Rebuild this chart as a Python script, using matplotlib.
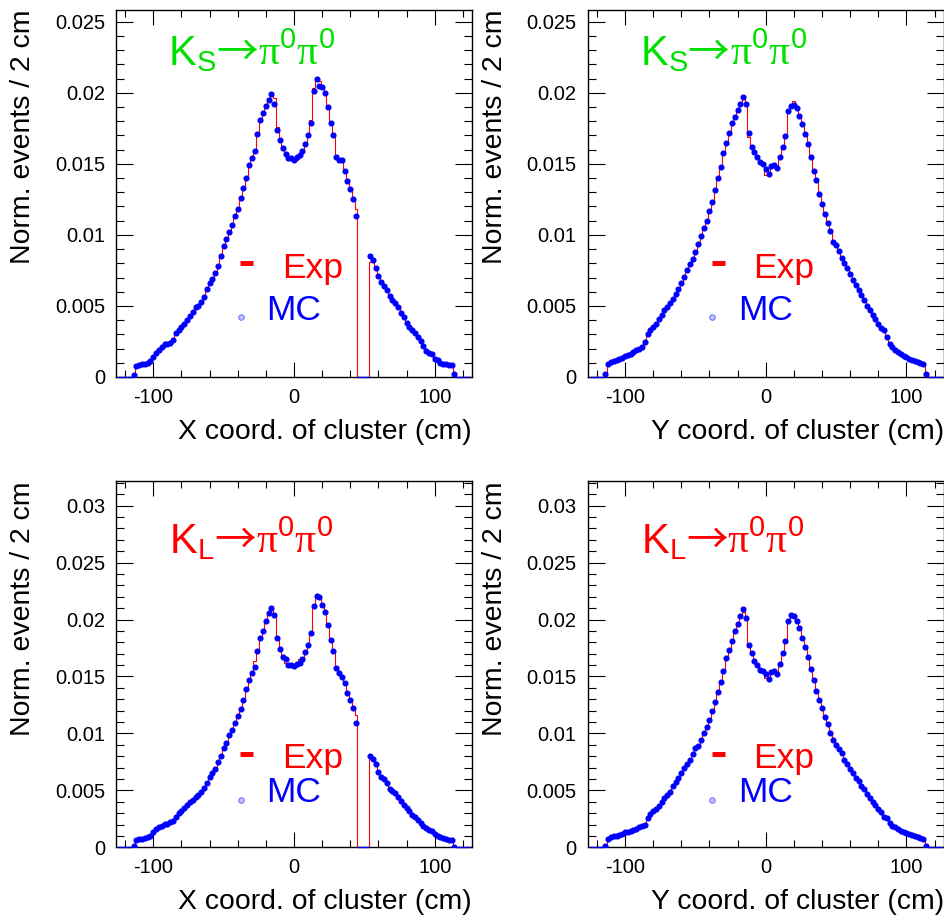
#!/usr/bin/env python3
"""Cluster X/Y coordinate distributions, data (Exp) vs MC, for KS and KL -> pi0 pi0."""
import matplotlib

matplotlib.use("Agg")
import matplotlib.pyplot as plt
import numpy as np
from matplotlib.ticker import FuncFormatter, MultipleLocator

plt.rcParams["font.family"] = ["Liberation Sans", "DejaVu Sans"]
plt.rcParams["mathtext.fontset"] = "custom"
plt.rcParams["mathtext.rm"] = "Liberation Sans"
plt.rcParams["mathtext.it"] = "Liberation Sans:italic"
plt.rcParams["mathtext.bf"] = "Liberation Sans:bold"

RED = "#ff0000"
BLUE = "#0000ff"
GREEN = "#00e000"

# histogram binning (cm): 2 cm bins, centres -124 ... 124
BIN_LO, BIN_HI, BIN_W = -125, 125, 2

# bin contents in units of 1e-3 (normalised events / 2 cm), one row = 10 bins
ks_x_mc = [
    0, 0, 0, 0, 0, 0.15, 0.77, 0.82, 0.89, 0.94,
    1.00, 1.10, 1.40, 1.70, 1.90, 2.10, 2.30, 2.35, 2.40, 2.60,
    3.10, 3.30, 3.50, 3.70, 4.00, 4.30, 4.60, 4.90, 5.00, 5.30,
    5.60, 6.20, 6.60, 6.90, 7.30, 7.80, 8.50, 9.20, 9.70, 10.20,
    10.70, 11.30, 11.80, 12.60, 13.30, 14.00, 14.90, 15.40, 15.90, 17.10,
    18.10, 18.60, 19.10, 19.50, 19.90, 19.20, 17.40, 16.70, 16.10, 15.70,
    15.40, 15.40, 15.30, 15.45, 15.60, 15.90, 16.40, 17.00, 17.90, 20.10,
    21.00, 20.50, 20.40, 20.00, 19.00, 17.90, 17.00, 15.50, 15.30, 15.30,
    14.50, 13.80, 13.20, 12.50, 11.30, 0, 0, 0, 0, 8.50,
    8.20, 7.70, 7.10, 6.70, 6.40, 6.10, 5.70, 5.40, 5.20, 4.90,
    4.50, 4.20, 3.80, 3.50, 3.30, 3.10, 2.80, 2.50, 2.20, 1.80,
    1.70, 1.60, 1.30, 1.20, 1.00, 0.94, 0.90, 0.85, 0.82, 0.23,
    0, 0, 0, 0, 0,
]
ks_x_exp = [
    0, 0, 0, 0, 0, 0.10, 0.78, 0.83, 0.88, 0.95,
    1.00, 1.12, 1.38, 1.70, 1.92, 2.10, 2.28, 2.38, 2.42, 2.62,
    3.05, 3.30, 3.52, 3.70, 4.02, 4.28, 4.62, 4.88, 5.02, 5.30,
    5.65, 6.15, 6.60, 6.95, 7.25, 7.85, 8.45, 9.20, 9.75, 10.15,
    10.75, 11.25, 11.90, 12.50, 13.40, 13.95, 15.00, 15.35, 16.00, 17.20,
    18.00, 18.70, 19.20, 19.60, 19.80, 19.60, 17.60, 16.60, 16.00, 15.60,
    15.30, 15.30, 15.30, 15.30, 15.60, 16.00, 16.30, 17.10, 18.10, 20.30,
    20.90, 20.80, 20.40, 19.90, 19.10, 17.90, 17.20, 15.60, 15.30, 15.40,
    14.40, 13.90, 13.10, 12.50, 11.80, 0, 0, 0, 0, 8.10,
    8.15, 7.75, 7.05, 6.75, 6.35, 6.10, 5.75, 5.35, 5.20, 4.85,
    4.55, 4.20, 3.75, 3.50, 3.30, 3.05, 2.80, 2.45, 2.20, 1.85,
    1.70, 1.60, 1.35, 1.20, 1.02, 0.95, 0.90, 0.86, 0.82, 0.20,
    0, 0, 0, 0, 0,
]
ks_y_mc = [
    0, 0, 0, 0, 0, 0.23, 0.94, 1.06, 1.13, 1.22,
    1.29, 1.36, 1.46, 1.53, 1.64, 1.76, 1.88, 2.00, 2.11, 2.46,
    3.00, 3.29, 3.52, 3.71, 4.06, 4.34, 4.70, 4.93, 5.21, 5.47,
    5.87, 6.22, 6.62, 7.04, 7.51, 7.93, 8.29, 8.76, 9.34, 9.95,
    10.50, 11.00, 11.67, 12.32, 13.15, 14.01, 14.74, 15.73, 16.48, 17.14,
    17.89, 18.31, 18.78, 19.20, 19.72, 19.18, 17.14, 16.20, 15.85, 15.49,
    15.14, 14.98, 14.60, 14.27, 14.86, 14.90, 14.67, 15.45, 16.20, 16.95,
    18.71, 19.08, 19.13, 18.90, 18.36, 17.77, 17.07, 16.38, 15.49, 14.51,
    13.85, 12.91, 12.14, 11.50, 10.85, 10.26, 9.51, 9.27, 8.87, 8.40,
    8.03, 7.68, 7.23, 6.81, 6.46, 6.15, 5.75, 5.40, 4.98, 4.70,
    4.34, 4.06, 3.76, 3.47, 3.29, 2.82, 2.35, 2.11, 1.92, 1.76,
    1.60, 1.50, 1.41, 1.29, 1.22, 1.13, 1.04, 0.97, 0.90, 0.23,
    0, 0, 0, 0, 0,
]
ks_y_exp = [
    0, 0, 0, 0, 0, 0.20, 0.95, 1.05, 1.14, 1.22,
    1.30, 1.37, 1.45, 1.55, 1.63, 1.78, 1.86, 2.02, 2.10, 2.40,
    3.05, 3.27, 3.55, 3.70, 4.08, 4.32, 4.72, 4.95, 5.20, 5.50,
    5.85, 6.25, 6.60, 7.05, 7.50, 7.95, 8.30, 8.75, 9.30, 10.00,
    10.45, 11.05, 11.60, 12.35, 13.10, 14.05, 14.70, 15.80, 16.40, 17.20,
    17.80, 18.40, 18.70, 19.30, 19.70, 19.25, 16.90, 16.30, 15.80, 15.40,
    15.10, 14.90, 14.20, 14.30, 14.80, 14.95, 14.60, 15.50, 16.10, 17.00,
    18.75, 19.20, 19.45, 18.90, 18.30, 17.80, 17.00, 16.40, 15.45, 14.40,
    13.70, 12.95, 12.10, 11.55, 10.80, 10.30, 9.50, 9.30, 8.80, 8.45,
    8.00, 7.70, 7.20, 6.85, 6.45, 6.15, 5.75, 5.40, 4.95, 4.72,
    4.30, 4.08, 3.75, 3.45, 3.30, 2.80, 2.38, 2.10, 1.93, 1.75,
    1.62, 1.50, 1.40, 1.30, 1.21, 1.12, 1.05, 0.96, 0.90, 0.20,
    0, 0, 0, 0, 0,
]
kl_x_mc = [
    0, 0, 0, 0, 0, 0.10, 0.64, 0.70, 0.76, 0.82,
    0.88, 1.00, 1.32, 1.58, 1.76, 1.90, 2.02, 2.08, 2.20, 2.34,
    2.69, 2.99, 3.22, 3.43, 3.69, 3.95, 4.16, 4.39, 4.60, 4.83,
    5.18, 5.62, 6.15, 6.50, 6.85, 7.49, 8.05, 8.75, 9.19, 9.84,
    10.30, 10.89, 11.53, 12.12, 12.94, 13.88, 14.70, 15.34, 15.81, 17.21,
    18.41, 19.03, 19.91, 20.55, 20.99, 20.40, 18.36, 17.42, 16.74, 16.57,
    16.01, 15.99, 15.95, 16.10, 16.22, 16.51, 17.18, 17.77, 18.85, 21.22,
    22.07, 22.01, 21.28, 20.64, 19.53, 18.21, 17.27, 15.72, 15.28, 14.99,
    14.40, 13.58, 12.94, 12.21, 10.95, 0, 0, 0, 0, 8.05,
    7.76, 7.29, 6.65, 6.21, 5.97, 5.62, 5.09, 4.98, 4.74, 4.45,
    4.07, 3.72, 3.48, 3.22, 2.84, 2.63, 2.40, 2.11, 1.90, 1.67,
    1.52, 1.46, 1.17, 1.00, 0.88, 0.79, 0.73, 0.67, 0.64, 0.06,
    0, 0, 0, 0, 0,
]
kl_x_exp = [
    0, 0, 0, 0, 0, 0.12, 0.65, 0.71, 0.75, 0.83,
    0.90, 1.02, 1.30, 1.60, 1.75, 1.92, 2.00, 2.10, 2.18, 2.36,
    2.66, 3.02, 3.20, 3.45, 3.66, 3.98, 4.12, 4.42, 4.58, 4.88,
    5.15, 5.65, 6.10, 6.55, 6.80, 7.55, 8.00, 8.80, 9.15, 9.90,
    10.25, 10.95, 11.45, 12.20, 12.85, 14.00, 14.60, 15.40, 16.40, 17.30,
    18.30, 19.10, 19.85, 20.60, 21.20, 20.30, 18.50, 17.30, 16.70, 16.20,
    16.00, 16.00, 15.95, 16.20, 16.50, 16.40, 17.30, 17.90, 18.80, 21.00,
    22.15, 22.10, 21.30, 20.60, 19.60, 18.30, 17.20, 15.80, 15.30, 15.00,
    14.30, 13.65, 12.90, 12.30, 11.60, 0, 0, 0, 0, 7.90,
    7.80, 7.25, 6.70, 6.20, 6.00, 5.55, 5.10, 4.95, 4.75, 4.45,
    4.10, 3.70, 3.50, 3.20, 2.86, 2.60, 2.42, 2.10, 1.92, 1.66,
    1.53, 1.45, 1.20, 1.00, 0.90, 0.80, 0.72, 0.68, 0.63, 0.10,
    0, 0, 0, 0, 0,
]
kl_y_mc = [
    0, 0, 0, 0, 0, 0.10, 0.76, 0.88, 0.97, 1.00,
    1.10, 1.20, 1.30, 1.35, 1.43, 1.55, 1.64, 1.76, 1.87, 2.00,
    2.60, 2.90, 3.20, 3.40, 3.60, 4.00, 4.30, 4.60, 4.90, 5.40,
    5.70, 6.10, 6.50, 7.00, 7.30, 7.70, 8.20, 8.70, 8.90, 9.40,
    10.00, 10.60, 11.20, 12.00, 12.80, 13.60, 14.50, 15.50, 16.60, 17.30,
    18.10, 19.00, 19.60, 20.30, 20.90, 20.10, 17.80, 17.10, 16.40, 16.00,
    15.60, 15.50, 15.20, 14.80, 15.40, 15.50, 15.20, 16.10, 17.10, 18.10,
    19.90, 20.40, 20.30, 19.90, 19.30, 18.40, 17.60, 16.70, 15.70, 14.70,
    13.70, 12.90, 12.20, 11.40, 10.80, 10.00, 9.40, 9.00, 8.60, 8.30,
    7.70, 7.30, 6.90, 6.50, 6.10, 5.80, 5.40, 5.10, 4.70, 4.30,
    4.00, 3.70, 3.40, 3.10, 2.70, 2.60, 2.10, 1.90, 1.76, 1.60,
    1.46, 1.35, 1.23, 1.17, 1.08, 1.00, 0.94, 0.85, 0.75, 0.10,
    0, 0, 0, 0, 0,
]
kl_y_exp = [
    0, 0, 0, 0, 0, 0.08, 0.78, 0.87, 0.96, 1.02,
    1.08, 1.22, 1.28, 1.37, 1.42, 1.56, 1.62, 1.78, 1.86, 2.02,
    2.55, 2.92, 3.18, 3.42, 3.58, 4.02, 4.28, 4.62, 4.88, 5.42,
    5.68, 6.12, 6.48, 7.05, 7.25, 7.75, 8.15, 8.75, 8.85, 9.45,
    9.95, 10.65, 11.15, 12.05, 12.75, 13.65, 14.40, 15.60, 16.50, 17.40,
    18.00, 19.10, 19.50, 20.40, 20.70, 20.20, 17.60, 17.20, 16.30, 16.00,
    15.50, 15.40, 14.90, 14.80, 15.30, 15.60, 15.10, 16.20, 17.00, 18.20,
    20.00, 20.30, 20.40, 19.80, 19.40, 18.30, 17.70, 16.60, 15.80, 14.60,
    13.80, 12.80, 12.30, 11.35, 10.85, 9.95, 9.45, 8.95, 8.65, 8.25,
    7.75, 7.25, 6.95, 6.45, 6.15, 5.75, 5.45, 5.05, 4.75, 4.25,
    4.05, 3.65, 3.45, 3.05, 2.75, 2.55, 2.15, 1.88, 1.78, 1.58,
    1.48, 1.33, 1.25, 1.15, 1.10, 0.98, 0.95, 0.83, 0.76, 0.08,
    0, 0, 0, 0, 0,
]

YLABEL = "Norm. events / 2 cm"
# title pieces: kaon, arrow, pions
KS_KAON = r"K$_{\rm S}$"
KL_KAON = r"K$_{\rm L}$"
PIONS = r"π$^{0}$π$^{0}$"


def draw_title(ax, kaon, color, y, x_k, x_arrow, x_pi):
    kw = dict(transform=ax.transAxes, color=color, va="baseline", ha="left")
    ax.text(x_k, y, kaon, fontsize=30, **kw)
    ax.text(x_arrow, y, "→", fontsize=30, family=["Noto Sans CJK JP", "DejaVu Sans"], **kw)
    ax.text(x_pi, y, PIONS, fontsize=30, family=["Liberation Serif", "DejaVu Serif"], **kw)


def draw_panel(ax, mc, exp, xlabel, ymax, kaon, tcolor, top_row):
    edges = np.arange(BIN_LO, BIN_HI + 1, BIN_W)
    centres = edges[:-1] + BIN_W / 2
    mc = np.asarray(mc) * 1e-3
    exp = np.asarray(exp) * 1e-3
    assert len(mc) == len(centres) and len(exp) == len(centres)

    ax.stairs(exp, edges, color=RED, lw=0.8, zorder=2)
    filled = mc > 0
    ax.plot(centres[filled], mc[filled], "o", ms=3.4, color=BLUE, mec=BLUE, zorder=4)
    # empty bins: only the horizontal bin-width bar at zero remains visible
    ax.hlines(mc[~filled], centres[~filled] - BIN_W / 2, centres[~filled] + BIN_W / 2,
              colors=BLUE, lw=1.0, zorder=3, clip_on=False)

    ax.set_xlim(-126.5, 126.5)
    ax.set_ylim(0, ymax)
    ax.xaxis.set_major_locator(MultipleLocator(100))
    ax.xaxis.set_minor_locator(MultipleLocator(20))
    ax.yaxis.set_major_locator(MultipleLocator(0.005))
    ax.yaxis.set_minor_locator(MultipleLocator(0.001))
    fmt = FuncFormatter(lambda v, pos: f"{v:g}")
    ax.xaxis.set_major_formatter(fmt)
    ax.yaxis.set_major_formatter(fmt)
    ax.tick_params(which="both", direction="in", top=True, right=True,
                   labelsize=14.5, pad=8, width=0.8, color="black")
    ax.tick_params(axis="x", which="major", length=11)
    ax.tick_params(axis="x", which="minor", length=5.3)
    ax.tick_params(axis="y", which="major", length=12)
    ax.tick_params(axis="y", which="minor", length=5.8)
    for sp in ax.spines.values():
        sp.set_linewidth(1.0)

    ax.text(1.0, -0.169, xlabel, transform=ax.transAxes, ha="right", va="baseline",
            fontsize=20.4)
    ax.text(-0.261, 1.0, YLABEL, transform=ax.transAxes, rotation=90, ha="center",
            va="top", fontsize=20.4)

    if top_row:
        bar_y, exp_y, mc_y, mk_y = 0.310, 0.269, 0.155, 0.163
        draw_title(ax, kaon, tcolor, 0.850, 0.146, 0.281, 0.400)
    else:
        bar_y, exp_y, mc_y, mk_y = 0.255, 0.217, 0.123, 0.128
        draw_title(ax, kaon, tcolor, 0.804, 0.149, 0.276, 0.392)

    # hand-made legend, ROOT style
    ax.plot([0.349, 0.385], [bar_y, bar_y], transform=ax.transAxes, color=RED, lw=3.6,
            solid_capstyle="butt")
    ax.text(0.4655, exp_y, "Exp", transform=ax.transAxes, color=RED, fontsize=25.5,
            va="baseline")
    ax.plot([0.350], [mk_y], "o", transform=ax.transAxes, ms=4, mfc="#c0c0ff",
            mec="#5a5aff", mew=0.6)
    ax.text(0.423, mc_y, "MC", transform=ax.transAxes, color=BLUE, fontsize=25.5,
            va="baseline")


def main():
    fig = plt.figure(figsize=(9.44, 9.16), dpi=100)
    W, H = 944, 916
    w, h = 356 / W, 367 / H
    ax_tl = fig.add_axes([116 / W, 1 - 377 / H, w, h])
    ax_tr = fig.add_axes([587.7 / W, 1 - 377 / H, w, h])
    ax_bl = fig.add_axes([116 / W, 1 - 847.3 / H, w, 366 / H])
    ax_br = fig.add_axes([587.7 / W, 1 - 847.3 / H, w, 366 / H])

    draw_panel(ax_tl, ks_x_mc, ks_x_exp, "X coord. of cluster (cm)", 0.02582, KS_KAON, GREEN, True)
    draw_panel(ax_tr, ks_y_mc, ks_y_exp, "Y coord. of cluster (cm)", 0.02582, KS_KAON, GREEN, True)
    draw_panel(ax_bl, kl_x_mc, kl_x_exp, "X coord. of cluster (cm)", 0.03214, KL_KAON, RED, False)
    draw_panel(ax_br, kl_y_mc, kl_y_exp, "Y coord. of cluster (cm)", 0.03214, KL_KAON, RED, False)

    fig.savefig("out.png", dpi=100)


if __name__ == "__main__":
    main()
